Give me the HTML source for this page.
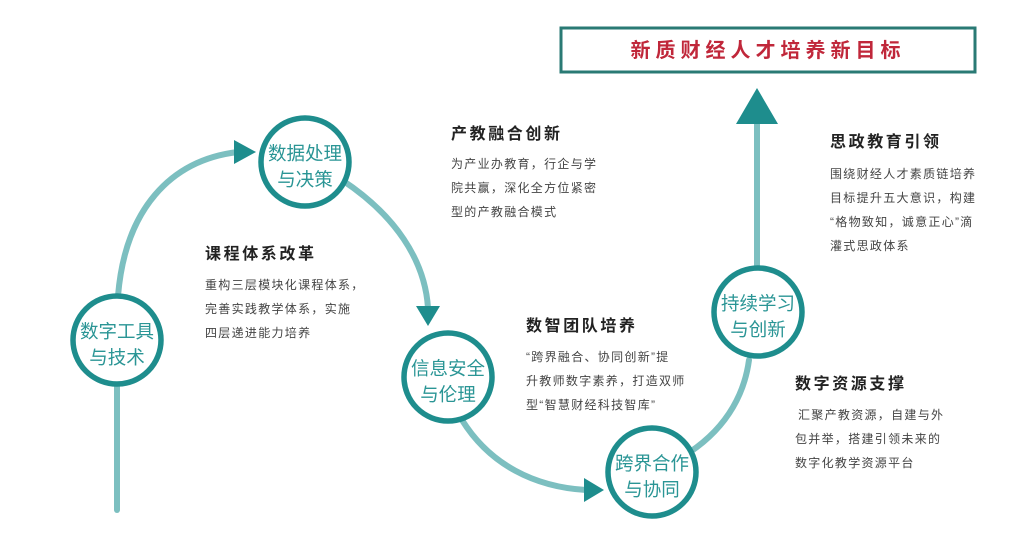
<!DOCTYPE html>
<html><head><meta charset="utf-8"><style>
html,body{margin:0;padding:0;background:#fff;}
svg{display:block;}
text{font-family:"Liberation Sans","Noto Sans CJK SC",sans-serif;}
.h{font-size:16px;font-weight:bold;fill:#222;letter-spacing:2.6px;}
.b{font-size:12px;fill:#444;letter-spacing:1.3px;}
.c{font-size:18.5px;fill:#2a9595;text-anchor:middle;}
</style></head><body>
<svg width="1024" height="543" viewBox="0 0 1024 543" xmlns="http://www.w3.org/2000/svg">
<g fill="none" stroke="#7cbfc0" stroke-width="6" stroke-linecap="round">
<path d="M117 510 L117 385"/>
<path d="M118 296 C125 210 170 160 238 152"/>
<path d="M342 180 C395 215 425 260 428 308"/>
<path d="M462 420 C490 465 535 487 586 490"/>
<path d="M690 452 C730 425 745 390 749 360"/>
<path d="M757 268 L757 120"/>
</g>
<g fill="#1e8d8d">
<polygon points="234,140 256,152 234,164"/>
<polygon points="416,306 440,306 428,326"/>
<polygon points="584,478 604,490 584,502"/>
<polygon points="736,124 778,124 757,88"/>
</g>
<g fill="#fff" stroke="#1e8d8d" stroke-width="5.5">
<circle cx="117" cy="340" r="44"/>
<circle cx="305" cy="162" r="44"/>
<circle cx="448" cy="377" r="44"/>
<circle cx="652" cy="472" r="44"/>
<circle cx="758" cy="312" r="44"/>
</g>
<text class="c" x="117" y="338">数字工具</text><text class="c" x="117" y="364">与技术</text>
<text class="c" x="305" y="160">数据处理</text><text class="c" x="305" y="186">与决策</text>
<text class="c" x="448" y="375">信息安全</text><text class="c" x="448" y="401">与伦理</text>
<text class="c" x="652" y="470">跨界合作</text><text class="c" x="652" y="496">与协同</text>
<text class="c" x="758" y="310">持续学习</text><text class="c" x="758" y="336">与创新</text>
<rect x="561" y="28" width="414" height="44" fill="#fff" stroke="#2a7a74" stroke-width="3"/>
<text x="768" y="57" text-anchor="middle" style="font-size:20px;font-weight:bold;fill:#c0273a;letter-spacing:5px">新质财经人才培养新目标</text>
<text class="h" x="451" y="139">产教融合创新</text>
<text class="b" x="451" y="168">为产业办教育，行企与学</text>
<text class="b" x="451" y="192">院共赢，深化全方位紧密</text>
<text class="b" x="451" y="216">型的产教融合模式</text>
<text class="h" x="205" y="259">课程体系改革</text>
<text class="b" x="205" y="289">重构三层模块化课程体系，</text>
<text class="b" x="205" y="313">完善实践教学体系，实施</text>
<text class="b" x="205" y="337">四层递进能力培养</text>
<text class="h" x="526" y="331">数智团队培养</text>
<text class="b" x="526" y="361">“跨界融合、协同创新”提</text>
<text class="b" x="526" y="385">升教师数字素养，打造双师</text>
<text class="b" x="526" y="409">型“智慧财经科技智库”</text>
<text class="h" x="830" y="147">思政教育引领</text>
<text class="b" x="830" y="178">围绕财经人才素质链培养</text>
<text class="b" x="830" y="202">目标提升五大意识，构建</text>
<text class="b" x="830" y="226">“格物致知，诚意正心”滴</text>
<text class="b" x="830" y="250">灌式思政体系</text>
<text class="h" x="795" y="389">数字资源支撑</text>
<text class="b" x="798" y="419">汇聚产教资源，自建与外</text>
<text class="b" x="795" y="443">包并举，搭建引领未来的</text>
<text class="b" x="795" y="467">数字化教学资源平台</text>
</svg>
</body></html>
